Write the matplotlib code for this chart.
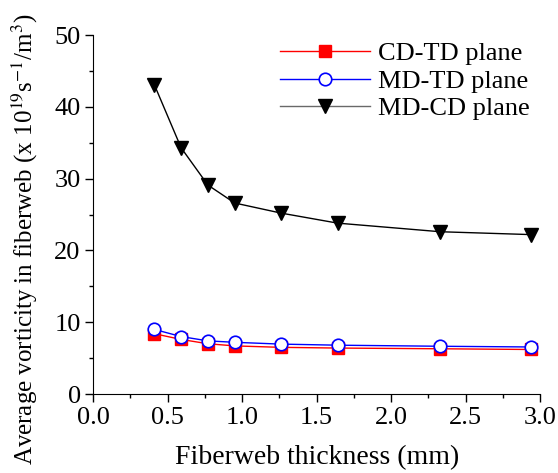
import matplotlib
matplotlib.use("Agg")
import matplotlib.pyplot as plt
from matplotlib.ticker import MultipleLocator

plt.rcParams['font.family'] = ['Liberation Serif', 'DejaVu Serif']
plt.rcParams['mathtext.fontset'] = 'stix'

thickness = [0.41, 0.59, 0.77, 0.95, 1.26, 1.64, 2.33, 2.94]
cd_td = [8.4, 7.6, 7.0, 6.7, 6.5, 6.4, 6.3, 6.2]
md_td = [9.0, 8.0, 7.4, 7.2, 6.95, 6.8, 6.65, 6.55]
md_cd = [43.1, 34.3, 29.1, 26.6, 25.2, 23.8, 22.6, 22.2]

fig = plt.figure(figsize=(5.58, 4.73), dpi=100)
ax = fig.add_axes([0.167, 0.167, 0.801, 0.759])

ax.plot(thickness, cd_td, color='red', lw=1, marker='s', ms=8,
        mfc='red', mec='red', label='CD-TD plane')
ax.plot(thickness, md_td, color='blue', lw=1, marker='o', ms=9,
        mfc='white', mec='blue', mew=1.2, label='MD-TD plane')
ax.plot(thickness, md_cd, color='black', lw=1, marker='v', ms=10,
        mfc='black', mec='black', label='MD-CD plane')

ax.set_xlim(0, 3.0)
ax.set_ylim(0, 50)
ax.xaxis.set_major_locator(MultipleLocator(0.5))
ax.xaxis.set_minor_locator(MultipleLocator(0.25))
ax.yaxis.set_major_locator(MultipleLocator(10))
ax.yaxis.set_minor_locator(MultipleLocator(5))
ax.set_xticks([0.0, 0.5, 1.0, 1.5, 2.0, 2.5, 3.0])
ax.set_xticklabels(['0.0', '0.5', '1.0', '1.5', '2.0', '2.5', '3.0'])
ax.tick_params(which='major', direction='out', length=6, width=1, labelsize=19, pad=3)
ax.tick_params(which='minor', direction='out', length=3, width=1)
for s in ['top', 'right']:
    ax.spines[s].set_visible(False)

ax.set_xlabel('Fiberweb thickness (mm)', fontsize=20, labelpad=12)
ax.set_ylabel(r'Average vorticity in fiberweb (x 10$^{19}$s$^{-1}$/m$^{3}$)', fontsize=18, labelpad=4)
ax.yaxis.set_label_coords(-0.12, 0.43)

leg = ax.legend(loc='upper right', frameon=False, fontsize=19, handlelength=3.4,
                handletextpad=0.3, labelspacing=0.15, borderaxespad=0.0,
                bbox_to_anchor=(1.0, 1.01))
leg.get_lines()[2].set_color('dimgray')

fig.savefig('out.png', dpi=100)
